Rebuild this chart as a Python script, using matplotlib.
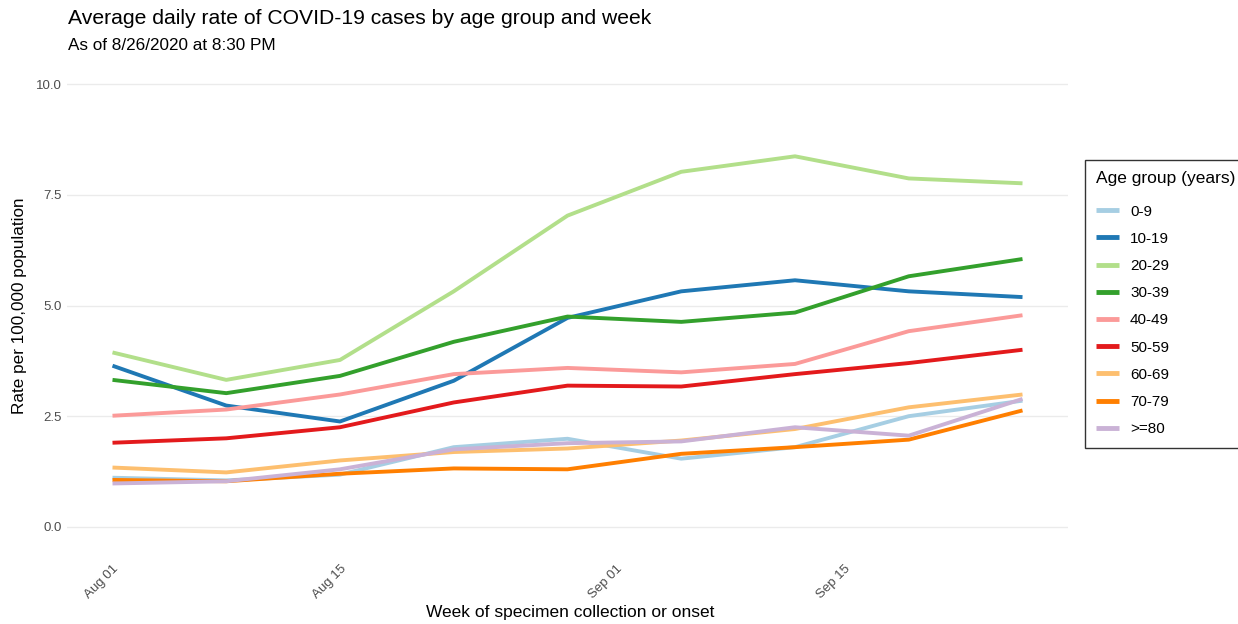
import datetime as dt
import matplotlib
matplotlib.use("Agg")
import matplotlib.pyplot as plt
import matplotlib.dates as mdates

plt.rcParams['font.family'] = ['Liberation Sans', 'DejaVu Sans']

# data: weekly average daily rate per 100k
weeks = [dt.date(2020, 8, 1) + dt.timedelta(days=7 * i) for i in range(9)]
age_groups = ['0-9', '10-19', '20-29', '30-39', '40-49', '50-59', '60-69', '70-79', '>=80']
rate_0_9 = [1.11, 1.05, 1.18, 1.80, 1.99, 1.54, 1.80, 2.50, 2.85]
rate_10_19 = [3.64, 2.74, 2.38, 3.30, 4.72, 5.32, 5.57, 5.32, 5.19]
rate_20_29 = [3.94, 3.32, 3.77, 5.32, 7.03, 8.02, 8.37, 7.87, 7.76]
rate_30_39 = [3.32, 3.02, 3.41, 4.18, 4.75, 4.63, 4.84, 5.66, 6.05]
rate_40_49 = [2.51, 2.65, 2.99, 3.45, 3.59, 3.49, 3.68, 4.42, 4.78]
rate_50_59 = [1.90, 2.00, 2.25, 2.81, 3.19, 3.17, 3.45, 3.70, 4.00]
rate_60_69 = [1.34, 1.23, 1.50, 1.69, 1.77, 1.95, 2.21, 2.70, 2.99]
rate_70_79 = [1.06, 1.03, 1.20, 1.32, 1.30, 1.65, 1.80, 1.97, 2.63]
rate_80_up = [0.98, 1.03, 1.30, 1.75, 1.89, 1.93, 2.25, 2.06, 2.89]
rates = [rate_0_9, rate_10_19, rate_20_29, rate_30_39, rate_40_49,
         rate_50_59, rate_60_69, rate_70_79, rate_80_up]
colors = ['#A6CEE3', '#1F78B4', '#B2DF8A', '#33A02C', '#FB9A99',
          '#E31A1C', '#FDBF6F', '#FF7F00', '#CAB2D6']

fig = plt.figure(figsize=(12.38, 6.24), dpi=100)
ax = fig.add_axes([67 / 1238, 1 - 549 / 624, (1068 - 67) / 1238, (549 - 62) / 624])

for label, vals, col in zip(age_groups, rates, colors):
    ax.plot(weeks, vals, color=col, lw=2.8, label=label, solid_capstyle='butt')

# axis limits with ggplot-like 5% padding
x0 = mdates.date2num(weeks[0])
x1 = mdates.date2num(weeks[-1])
pad = (x1 - x0) * 0.05
ax.set_xlim(x0 - pad, x1 + pad)
ax.set_ylim(-0.5, 10.5)

ax.set_yticks([0, 2.5, 5.0, 7.5, 10.0])
ax.set_yticklabels(['0.0', '2.5', '5.0', '7.5', '10.0'])
ax.set_xticks([dt.date(2020, 8, 1), dt.date(2020, 8, 15), dt.date(2020, 9, 1), dt.date(2020, 9, 15)])
ax.xaxis.set_major_formatter(mdates.DateFormatter('%b %d'))
plt.setp(ax.get_xticklabels(), rotation=45, ha='right', rotation_mode='anchor')

ax.grid(axis='y', color='#EBEBEB', lw=1)
ax.set_axisbelow(True)
for s in ax.spines.values():
    s.set_visible(False)
ax.tick_params(length=0, labelsize=9.5, labelcolor='#4D4D4D', pad=4)
ax.tick_params(axis='x', pad=10)

ax.set_xlabel('Week of specimen collection or onset', fontsize=12.5, va='center')
ax.xaxis.set_label_coords(570 / 1238, 1 - 613 / 624, transform=fig.transFigure)
ax.set_ylabel('Rate per 100,000 population', fontsize=12.3, labelpad=6)

fig.text(68 / 1238, 1 - 18 / 624, 'Average daily rate of COVID-19 cases by age group and week',
         fontsize=15.2, va='center', ha='left')
fig.text(68 / 1238, 1 - 45 / 624, 'As of 8/26/2020 at 8:30 PM', fontsize=12.3, va='center', ha='left')

leg = fig.legend(loc='upper left', bbox_to_anchor=(1085 / 1238, 1 - 160 / 624),
                 title='Age group (years)', fontsize=11, title_fontsize=12.5,
                 frameon=True, fancybox=False, edgecolor='black',
                 handlelength=1.5, handletextpad=0.7,
                 labelspacing=0.865, borderpad=0.75, borderaxespad=0, alignment='left')
leg.get_frame().set_linewidth(1)
leg._legend_box.sep = 13  # extra gap under the title
for line in leg.get_lines():
    line.set_linewidth(3.5)

fig.savefig('out.png', dpi=100)
